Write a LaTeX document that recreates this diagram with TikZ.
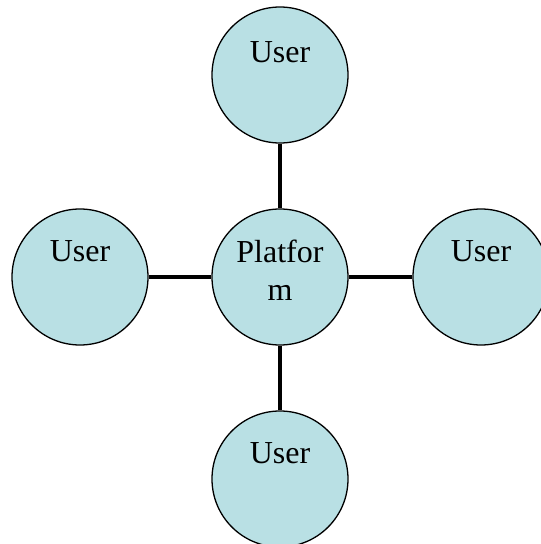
\documentclass[tikz,border=0pt]{standalone}
\usepackage{fontspec}
\setmainfont{Liberation Serif}
\definecolor{bubble}{RGB}{185,224,228}
\tikzset{
  bubble/.style={circle, draw=black, line width=1.3pt, fill=bubble, minimum size=136pt, inner sep=0pt},
  lbl/.style={anchor=base, font=\fontsize{32}{38}\selectfont, inner sep=0pt, align=center},
  link/.style={line width=4.5pt, draw=black}
}
\begin{document}
\begin{tikzpicture}[x=1pt, y=-1pt]
\useasboundingbox (0,0) rectangle (541,544);
\node[bubble] (top) at (280,75) {};
\node[bubble] (mid) at (280,277) {};
\node[bubble] (left) at (80,277) {};
\node[bubble] (right) at (481,277) {};
\node[bubble] (bot) at (280,479) {};
\draw[link] (top) -- (mid);
\draw[link] (left) -- (mid);
\draw[link] (right) -- (mid);
\draw[link] (bot) -- (mid);
\node[lbl] (tt) at (280,62) {User};
\node[lbl] (lt) at (80,261) {User};
\node[lbl] (rt) at (481,261) {User};
\node[lbl] (bt) at (280,463) {User};
\node[lbl] (mt1) at (280,262) {Platfor};
\node[lbl] (mt2) at (280,300) {m};
\end{tikzpicture}
\end{document}
